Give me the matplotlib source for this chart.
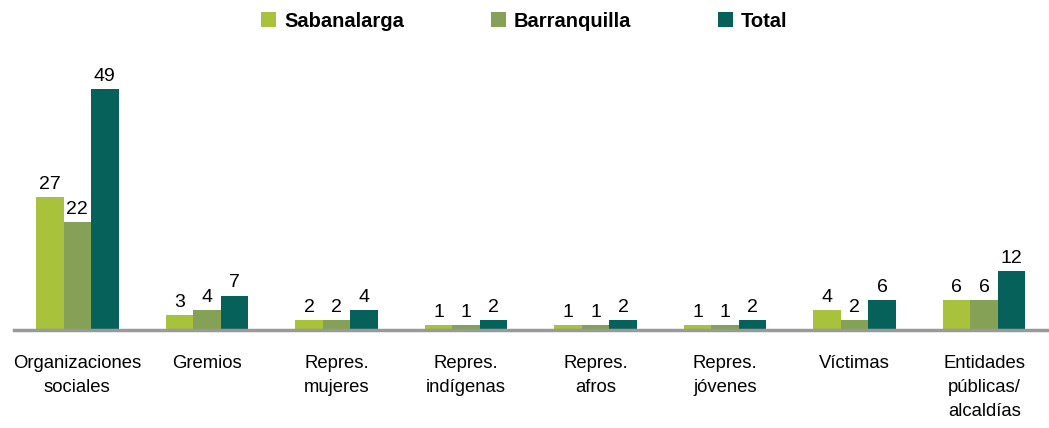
import numpy as np
import matplotlib
matplotlib.use('Agg')
import matplotlib.pyplot as plt
from matplotlib.patches import Patch

plt.rcParams['font.family'] = ['Liberation Sans', 'DejaVu Sans']

categories = ['Organizaciones\nsociales', 'Gremios', 'Repres.\nmujeres', 'Repres.\nindígenas',
              'Repres.\nafros', 'Repres.\njóvenes', 'Víctimas', 'Entidades\npúblicas/\nalcaldías']
series_names = ['Sabanalarga', 'Barranquilla', 'Total']
sabanalarga = [27, 3, 2, 1, 1, 1, 4, 6]
barranquilla = [22, 4, 2, 1, 1, 1, 2, 6]
total = [49, 7, 4, 2, 2, 2, 6, 12]
colors = ['#A8C23B', '#84A155', '#07615B']

fig = plt.figure(figsize=(10.49, 4.28), dpi=100)
ax = fig.add_axes([0.012, 0.229, 0.988, 0.63])

x = np.arange(len(categories))
w = 0.212
for i, (vals, col, name) in enumerate(zip([sabanalarga, barranquilla, total], colors, series_names)):
    bars = ax.bar(x + (i - 1) * w, vals, w, color=col, label=name)
    ax.bar_label(bars, labels=[str(v) for v in vals], padding=3, fontsize=14)

ax.set_xlim(-0.5, len(categories) - 0.5)
ax.set_ylim(0, 54.8)
ax.set_xticks(x)
ax.set_xticklabels(categories, fontsize=13.3, linespacing=1.55, va='top')
ax.tick_params(axis='x', length=0, pad=18)
ax.set_yticks([])
for s in ['top', 'right', 'left']:
    ax.spines[s].set_visible(False)
ax.spines['bottom'].set_color('#999999')
ax.spines['bottom'].set_linewidth(2.5)
ax.spines['bottom'].set_bounds(-0.49, len(categories) - 0.5)

handles = [Patch(facecolor=c, edgecolor='none') for c in colors]
fig.legend(handles, series_names, loc='upper center', bbox_to_anchor=(0.5, 1.015), ncol=3,
           frameon=False, prop={'weight': 'bold', 'size': 14.5}, handlelength=0.75,
           handleheight=0.75, handletextpad=0.4, columnspacing=4.3)

fig.savefig('out.png', dpi=100)
